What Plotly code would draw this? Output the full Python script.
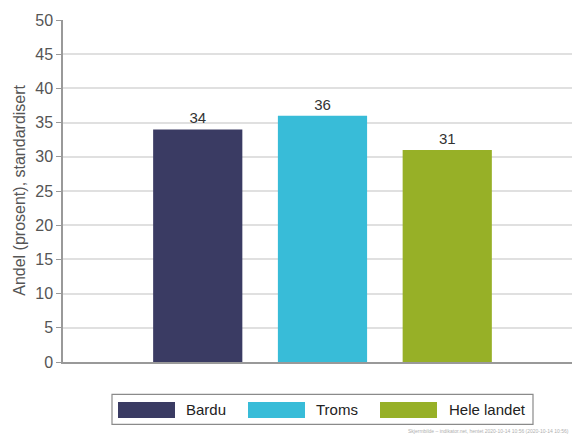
import plotly.graph_objects as go

categories = ["Bardu", "Troms", "Hele landet"]
values = [34, 36, 31]
colors = ["#3a3b63", "#38bcd8", "#97b027"]
y_ticks = [0, 5, 10, 15, 20, 25, 30, 35, 40, 45, 50]
y_title = "Andel (prosent), standardisert"
footer = "Skjermbilde – indikator.net, hentet 2020-10-14 10:56 (2020-10-14 10:56)"

W, H = 572, 437
L, R, T = 63, 0, 20
B = H - 362.5
FONT = "Liberation Sans, Arial, sans-serif"

fig = go.Figure()
fig.add_trace(go.Bar(
    x=list(range(len(categories))), y=values,
    marker=dict(color=colors, line=dict(width=0)),
    width=0.715,
    text=[str(v) for v in values], textposition="outside",
    textfont=dict(size=15, color="#333333", family=FONT),
    cliponaxis=False, showlegend=False, hoverinfo="skip",
))

pw = W - L - R
ph = H - T - B
def px(x):
    return (x - L) / pw
def py(y):
    return (H - B - y) / ph

shapes = []
annotations = []
shapes.append(dict(type="rect", xref="paper", yref="paper",
                   x0=px(112), x1=px(533), y0=py(425), y1=py(395),
                   line=dict(color="#8a8a8a", width=1.2), fillcolor="white"))
sw = [(118, 175, 184), (248, 305, 314), (380, 437, 447)]
for (x0, x1, tx), c, name in zip(sw, colors, categories):
    shapes.append(dict(type="rect", xref="paper", yref="paper",
                       x0=px(x0), x1=px(x1), y0=py(418.5), y1=py(402.5),
                       line=dict(width=0), fillcolor=c))
    annotations.append(dict(xref="paper", yref="paper", x=px(tx), y=py(410.5),
                            text=name, showarrow=False, xanchor="left", yanchor="middle",
                            font=dict(size=15, color="#222222", family=FONT)))
annotations.append(dict(xref="paper", yref="paper", x=px(20), y=py(191),
                        text=y_title, textangle=-90, showarrow=False,
                        xanchor="center", yanchor="middle",
                        font=dict(size=16, color="#555555", family=FONT)))
annotations.append(dict(xref="paper", yref="paper", x=px(571), y=py(432),
                        text=footer, showarrow=False, xanchor="right", yanchor="middle",
                        font=dict(size=5, color="#b0b0b0", family=FONT)))

fig.update_layout(
    width=W, height=H,
    margin=dict(l=L, r=R, t=T, b=B, pad=0),
    paper_bgcolor="white", plot_bgcolor="white",
    shapes=shapes, annotations=annotations,
    xaxis=dict(range=[-1.08, 3.0], showticklabels=False, ticks="", showgrid=False,
               zeroline=False, showline=True, linecolor="#999999", linewidth=1.5,
               fixedrange=True),
    yaxis=dict(range=[0, 50], tickvals=y_ticks, ticks="outside", ticklen=5,
               tickcolor="#999999", tickwidth=1, showline=True, linecolor="#999999",
               linewidth=1.5, showgrid=True, gridcolor="#e0e0e0", gridwidth=1.5,
               zeroline=False, tickfont=dict(size=16, color="#555555", family=FONT),
               fixedrange=True),
)

fig.write_html(
    "out.html",
    config={"displayModeBar": False},
    post_script="document.body.style.margin='0';document.body.style.overflow='hidden';",
)
